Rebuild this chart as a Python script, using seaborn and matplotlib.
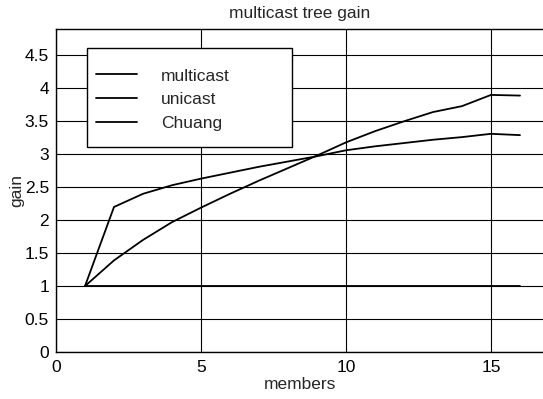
import matplotlib
matplotlib.use("Agg")
import matplotlib.pyplot as plt
from matplotlib.patches import Rectangle
import seaborn as sns
import pandas as pd

# group size (number of members)
members = list(range(1, 17))

# gain relative to multicast
multicast = [1.0] * 16
unicast = [1.0, 2.20, 2.40, 2.53, 2.63, 2.72, 2.81, 2.89,
           2.97, 3.06, 3.12, 3.17, 3.22, 3.26, 3.31, 3.29]
chuang = [1.0, 1.39, 1.70, 1.97, 2.19, 2.40, 2.60, 2.79,
          2.98, 3.18, 3.35, 3.50, 3.64, 3.73, 3.90, 3.89]

series_names = ["multicast", "unicast", "Chuang"]
xticks = [0, 5, 10, 15]
yticks = [0, 0.5, 1, 1.5, 2, 2.5, 3, 3.5, 4, 4.5]
ytick_labels = ["0", "0.5", "1", "1.5", "2", "2.5", "3", "3.5", "4", "4.5"]

df = pd.DataFrame({
    "members": members * 3,
    "gain": multicast + unicast + chuang,
    "series": [n for n in series_names for _ in members],
})

sns.set_theme(style="white")
plt.rcParams["font.family"] = ["Liberation Sans", "DejaVu Sans"]

FS = 12.5

fig = plt.figure(figsize=(5.43, 3.99), dpi=100)
ax = fig.add_axes([56 / 543, 47 / 399, 487 / 543, 323 / 399])

sns.lineplot(data=df, x="members", y="gain", hue="series",
             hue_order=series_names,
             palette=["black", "black", "black"],
             linewidth=1.3, ax=ax, zorder=3)

ax.set_xlim(0, 487 / 29)
ax.set_ylim(0, 4.9)
ax.set_xticks(xticks)
ax.set_xticklabels([str(t) for t in xticks])
ax.set_yticks(yticks)
ax.set_yticklabels(ytick_labels)
ax.tick_params(direction="in", length=4, colors="black", labelsize=FS)
ax.tick_params(axis="x", pad=6)
ax.tick_params(axis="y", pad=5)

ax.grid(True, color="black", linewidth=0.8)
for side in ["left", "bottom", "top"]:
    ax.spines[side].set_color("black")
    ax.spines[side].set_linewidth(1.0)
ax.spines["right"].set_visible(False)

ax.set_title("multicast tree gain", fontsize=FS, pad=8)
ax.set_xlabel("members", fontsize=FS, labelpad=1)
ax.set_ylabel("gain", fontsize=FS, labelpad=0)

# legend box drawn as a white framed rectangle, entries placed inside it
box = Rectangle((31 / 487, (352 - 147) / 323), 205 / 487, 99 / 323,
                transform=ax.transAxes, facecolor="white", edgecolor="black",
                linewidth=1.0, zorder=5)
ax.add_patch(box)

leg = ax.legend(loc="upper left", bbox_to_anchor=(40 / 487, 0.878),
                fontsize=FS, frameon=False, borderpad=0, borderaxespad=0,
                handlelength=2.35, handletextpad=1.4, labelspacing=0.5)
leg.set_zorder(6)
for line in leg.get_lines():
    line.set_linewidth(1.3)

fig.savefig("out.png", dpi=100)
